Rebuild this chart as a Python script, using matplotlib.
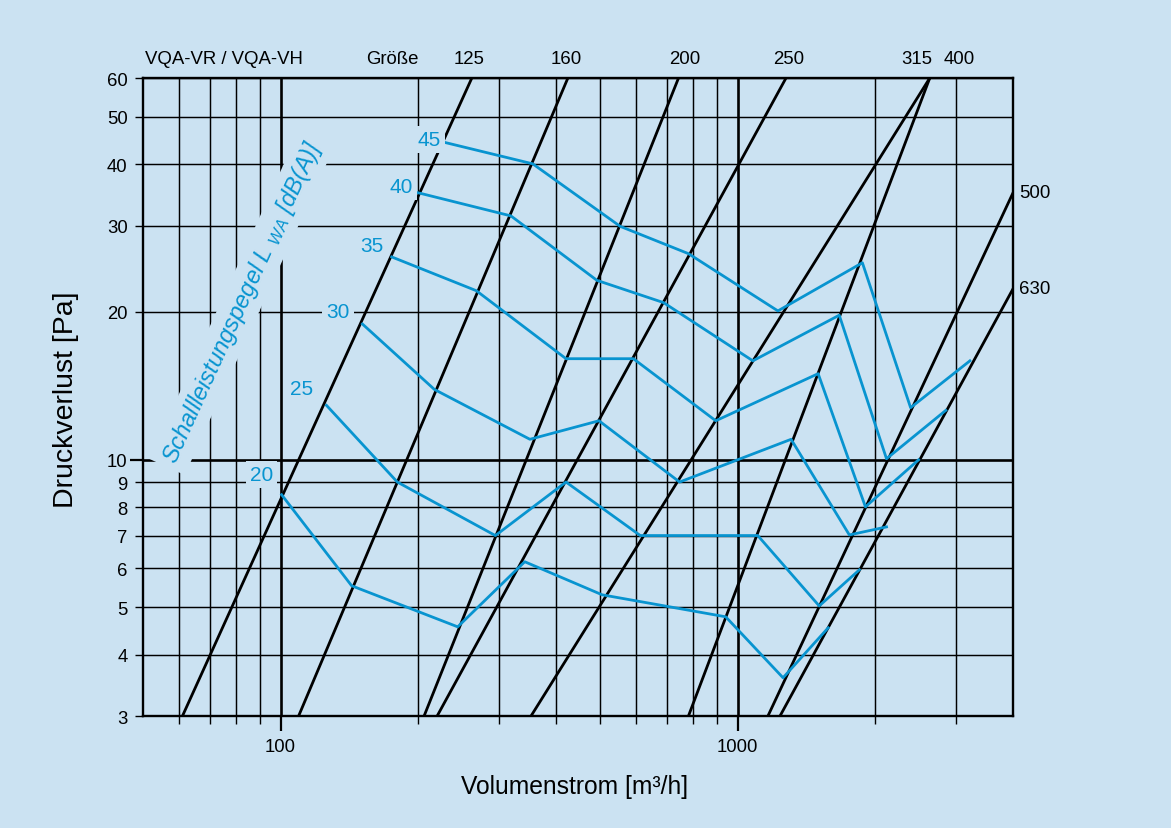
import matplotlib
matplotlib.use("Agg")
import matplotlib.pyplot as plt
import matplotlib.ticker as mticker
from matplotlib.transforms import blended_transform_factory

plt.rcParams.update({
    "font.family": ["Liberation Sans", "DejaVu Sans"],
    "mathtext.fontset": "custom",
    "mathtext.rm": "Liberation Sans",
    "mathtext.it": "Liberation Sans:italic",
})

BG = "#cbe2f2"
BLUE = "#0894d0"

# Baureihe / Größen: Kennlinien als Geraden im log-log-Netz (V [m³/h], Δp [Pa])
size_names = ["125", "160", "200", "250", "315", "400", "500", "630"]
size_v_start = [61, 109.5, 206, 220, 353, 780, 1164, 1237]
size_p_start = [3, 3, 3, 3, 3, 3, 3, 3]
size_v_end = [262, 425, 742, 1275, 2630, 2630, 4000, 4000]
size_p_end = [60, 60, 60, 60, 60, 60, 35, 22.3]

# Schallleistungspegel-Linien L_WA [dB(A)]
lwa_levels = [20, 25, 30, 35, 40, 45]
lwa20_v = [100.5, 143, 244, 342, 505, 941, 1256, 1577]
lwa20_p = [8.48, 5.53, 4.56, 6.19, 5.30, 4.78, 3.59, 4.54]
lwa25_v = [126, 180, 295, 421, 612, 1106, 1507, 1845]
lwa25_p = [12.9, 9.0, 7.0, 9.0, 7.0, 7.0, 5.03, 5.96]
lwa30_v = [151, 217, 351, 497, 746, 1308, 1754, 2115]
lwa30_p = [18.9, 13.9, 11.0, 12.0, 9.0, 11.0, 7.02, 7.29]
lwa35_v = [175, 268, 421, 591, 895, 1499, 1902, 2486]
lwa35_p = [25.9, 22.1, 16.06, 16.06, 12.0, 14.97, 8.01, 9.99]
lwa40_v = [200, 319, 492, 688, 1079, 1667, 2115, 2851]
lwa40_p = [35.0, 31.4, 23.2, 20.9, 15.9, 19.7, 10.04, 12.6]
lwa45_v = [225, 356, 553, 780, 1224, 1873, 2388, 3219]
lwa45_p = [44.5, 40.1, 29.9, 26.3, 20.1, 25.2, 12.76, 15.9]
lwa_curves = [(lwa20_v, lwa20_p), (lwa25_v, lwa25_p), (lwa30_v, lwa30_p),
              (lwa35_v, lwa35_p), (lwa40_v, lwa40_p), (lwa45_v, lwa45_p)]
lwa_label_v = [90.8, 111.2, 133.5, 158.5, 183.5, 211.5]
lwa_label_p = [9.31, 13.95, 20.0, 27.3, 36.0, 44.9]

# Achsen
x_major = [100, 1000]
x_minor = [60, 70, 80, 90, 200, 300, 400, 500, 600, 700, 800, 900, 2000, 3000]
y_major = [10]
y_minor = [3, 4, 5, 6, 7, 8, 9, 20, 30, 40, 50, 60]

fig = plt.figure(figsize=(11.71, 8.29), dpi=100, facecolor=BG)
ax = fig.add_axes([0.1221, 0.1351, 0.7430, 0.7696])
ax.set_facecolor(BG)
ax.set_xscale("log")
ax.set_yscale("log")
ax.set_xlim(50, 4000)
ax.set_ylim(3, 60)

ax.xaxis.set_major_locator(mticker.FixedLocator(x_major))
ax.xaxis.set_minor_locator(mticker.FixedLocator(x_minor))
ax.xaxis.set_major_formatter(mticker.FuncFormatter(lambda v, _: f"{v:g}"))
ax.xaxis.set_minor_formatter(mticker.NullFormatter())
ax.yaxis.set_major_locator(mticker.FixedLocator(y_major))
ax.yaxis.set_minor_locator(mticker.FixedLocator(y_minor))
ax.yaxis.set_major_formatter(mticker.FuncFormatter(lambda v, _: f"{v:g}"))
ax.yaxis.set_minor_formatter(mticker.FuncFormatter(lambda v, _: f"{v:g}"))

ax.tick_params(axis="x", which="major", length=11, width=1.6, pad=5, labelsize=13.3)
ax.tick_params(axis="x", which="minor", length=5.5, width=1.0)
ax.tick_params(axis="y", which="minor", length=5.5, width=1.0, pad=5.5, labelsize=13.3)
ax.tick_params(axis="y", which="major", length=9.5, width=1.6, pad=1.5, labelsize=13.3)

ax.set_axisbelow(True)
ax.grid(which="major", color="black", lw=1.9)
ax.grid(which="minor", color="black", lw=1.05)
for s in ax.spines.values():
    s.set_linewidth(1.7)
    s.set_color("black")

# Größen-Kennlinien
for v0, p0, v1, p1 in zip(size_v_start, size_p_start, size_v_end, size_p_end):
    ax.plot([v0, v1], [p0, p1], color="black", lw=2.0, zorder=3)

# Schallleistungspegel
for (v, p) in lwa_curves:
    ax.plot(v, p, color=BLUE, lw=2.0, zorder=4)

mask = dict(boxstyle="square,pad=0.2", fc=BG, ec="none")
for lvl, lv, lp in zip(lwa_levels, lwa_label_v, lwa_label_p):
    ax.text(lv, lp, str(lvl), color=BLUE, fontsize=15, ha="center", va="center",
            bbox=mask, zorder=5)

ax.text(82.5, 21.0, r"Schallleistungspegel L $_{\mathit{WA}}$ [dB(A)]",
        color=BLUE, fontsize=17, style="italic", rotation=65.5,
        rotation_mode="anchor", ha="center", va="center",
        bbox=dict(boxstyle="square,pad=0.25", fc=BG, ec="none"), zorder=5)

# Beschriftung oben / rechts
top = blended_transform_factory(ax.transData, ax.transAxes)
ax.text(50.6, 1.031, "VQA-VR / VQA-VH", transform=top, ha="left", va="center", fontsize=13.4)
ax.text(176, 1.031, "Größe", transform=top, ha="center", va="center", fontsize=13.4)
top_label_v = [258, 421, 765, 1294, 2462, 3045]
for name, lv in zip(size_names[:6], top_label_v):
    ax.text(lv, 1.031, name, transform=top, ha="center", va="center", fontsize=13.4)
right = blended_transform_factory(ax.transAxes, ax.transData)
for name, pe in zip(size_names[6:], size_p_end[6:]):
    ax.text(1.007, pe, name, transform=right, ha="left", va="center", fontsize=13.4)

fig.text(66 / 1171, 1 - 400 / 829, "Druckverlust [Pa]", rotation=90,
         ha="center", va="center", fontsize=20.5)
fig.text(575 / 1171, 1 - 787 / 829, "Volumenstrom [m³/h]",
         ha="center", va="center", fontsize=17.7)

fig.savefig("out.png", dpi=100, facecolor=BG)
